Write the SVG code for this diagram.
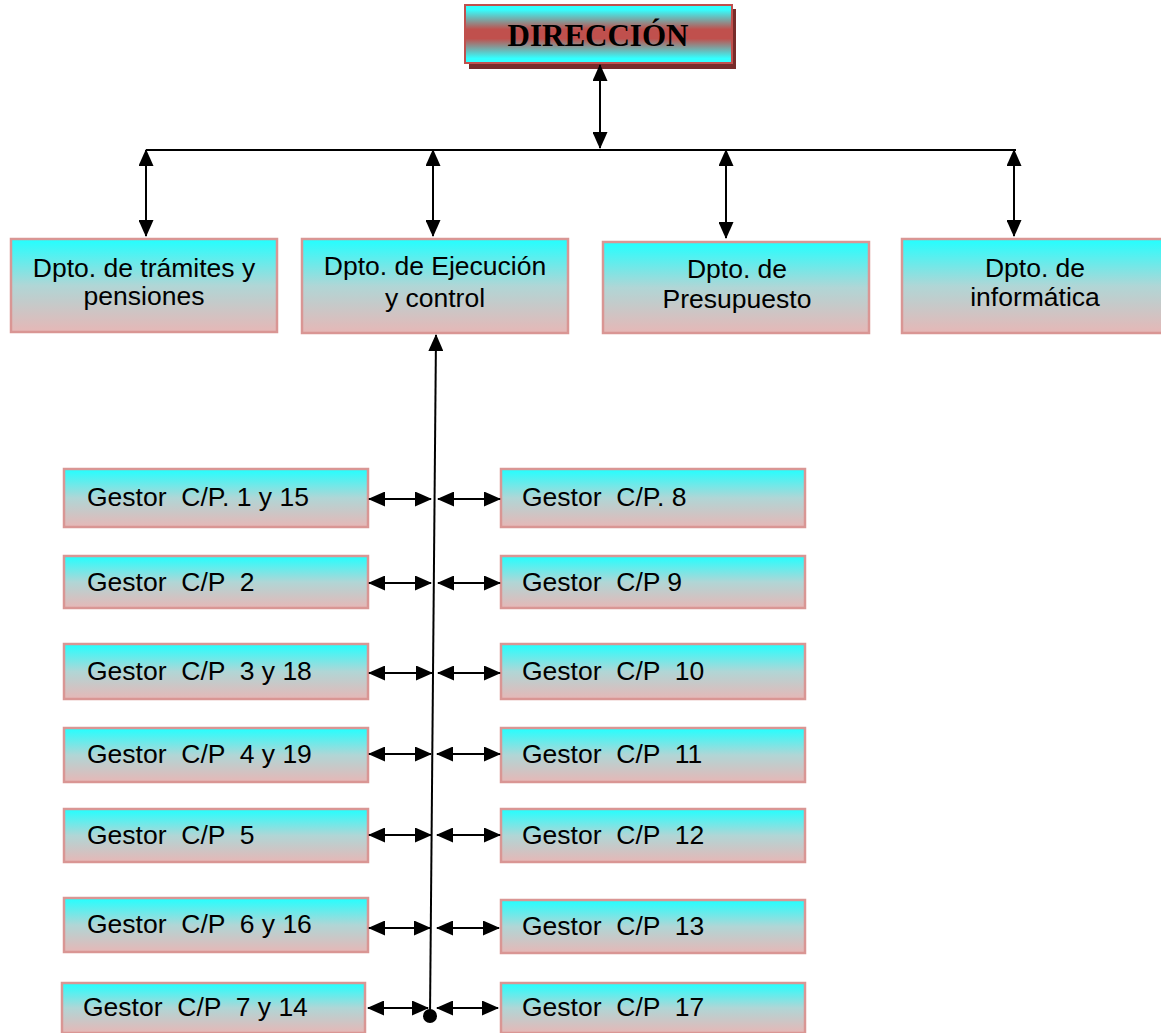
<svg xmlns="http://www.w3.org/2000/svg" width="1161" height="1033" viewBox="0 0 1161 1033">
<style>
.box{fill:url(#g);stroke:#d99694;stroke-width:2.5}
.t{font-family:"Liberation Sans",Arial,sans-serif;font-size:26.5px;fill:#000;white-space:pre}
.c{text-anchor:middle}
.ln{stroke:#000;stroke-width:2;fill:none}
.ar{stroke:#000;stroke-width:2;fill:none;marker-start:url(#ah);marker-end:url(#ah)}
</style>
<defs>
<linearGradient id="g" x1="0" y1="0" x2="0" y2="1">
<stop offset="0" stop-color="#22ffff"/>
<stop offset="0.5" stop-color="#b0d6d6"/>
<stop offset="1" stop-color="#e6b7b6"/>
</linearGradient>
<linearGradient id="gd" x1="0" y1="0" x2="0" y2="1">
<stop offset="0" stop-color="#33ffff"/>
<stop offset="0.08" stop-color="#33ffff"/>
<stop offset="0.42" stop-color="#c0504d"/>
<stop offset="0.58" stop-color="#c0504d"/>
<stop offset="0.92" stop-color="#33ffff"/>
<stop offset="1" stop-color="#33ffff"/>
</linearGradient>
<marker id="ah" viewBox="0 0 17 15" refX="16" refY="7.5" markerWidth="17" markerHeight="15" markerUnits="userSpaceOnUse" orient="auto-start-reverse">
<path d="M0,0 L17,7.5 L0,15 z" fill="#000"/>
</marker>
<marker id="ah1" viewBox="0 0 17 15" refX="16" refY="7.5" markerWidth="17" markerHeight="15" markerUnits="userSpaceOnUse" orient="auto">
<path d="M0,0 L17,7.5 L0,15 z" fill="#000"/>
</marker>
</defs>

<g id="direccion">
<rect x="469" y="9" width="267" height="60" fill="#772c2a"/>
<rect x="465" y="5" width="267" height="58" fill="url(#gd)" stroke="#c0504d" stroke-width="2"/>
<text x="598" y="46" text-anchor="middle" font-family="'Liberation Serif','Times New Roman',serif" font-weight="bold" font-size="31px">DIRECCIÓN</text>
</g>

<g id="dpto-tramites">
<rect class="box" x="11" y="239" width="266" height="93"/>
<text class="t c" x="144" y="277">Dpto. de trámites y</text>
<text class="t c" x="144" y="305">pensiones</text>
</g>
<g id="dpto-ejecucion">
<rect class="box" x="302" y="239" width="266" height="94"/>
<text class="t c" x="435" y="275">Dpto. de Ejecución</text>
<text class="t c" x="435" y="307">y control</text>
</g>
<g id="dpto-presupuesto">
<rect class="box" x="603" y="242" width="266" height="91"/>
<text class="t c" x="737" y="278">Dpto. de</text>
<text class="t c" x="737" y="308">Presupuesto</text>
</g>
<g id="dpto-informatica">
<rect class="box" x="902" y="239" width="262" height="94"/>
<text class="t c" x="1035" y="277">Dpto. de</text>
<text class="t c" x="1035" y="306">informática</text>
</g>

<g id="gestor-1"><rect class="box" x="64" y="469" width="304" height="58"/><text class="t" x="87" y="506">Gestor  C/P. 1 y 15</text></g>
<g id="gestor-2"><rect class="box" x="64" y="556" width="304" height="52"/><text class="t" x="87" y="591">Gestor  C/P  2</text></g>
<g id="gestor-3"><rect class="box" x="64" y="644" width="304" height="55"/><text class="t" x="87" y="680">Gestor  C/P  3 y 18</text></g>
<g id="gestor-4"><rect class="box" x="64" y="728" width="304" height="54"/><text class="t" x="87" y="763">Gestor  C/P  4 y 19</text></g>
<g id="gestor-5"><rect class="box" x="64" y="809" width="304" height="53"/><text class="t" x="87" y="844">Gestor  C/P  5</text></g>
<g id="gestor-6"><rect class="box" x="64" y="898" width="304" height="54"/><text class="t" x="87" y="933">Gestor  C/P  6 y 16</text></g>
<g id="gestor-7"><rect class="box" x="62" y="983" width="303" height="50"/><text class="t" x="83" y="1016">Gestor  C/P  7 y 14</text></g>

<g id="gestor-8"><rect class="box" x="501" y="469" width="304" height="58"/><text class="t" x="522" y="506">Gestor  C/P. 8</text></g>
<g id="gestor-9"><rect class="box" x="501" y="556" width="304" height="52"/><text class="t" x="522" y="591">Gestor  C/P 9</text></g>
<g id="gestor-10"><rect class="box" x="501" y="644" width="304" height="55"/><text class="t" x="522" y="680">Gestor  C/P  10</text></g>
<g id="gestor-11"><rect class="box" x="501" y="728" width="304" height="54"/><text class="t" x="522" y="763">Gestor  C/P  11</text></g>
<g id="gestor-12"><rect class="box" x="501" y="809" width="304" height="53"/><text class="t" x="522" y="844">Gestor  C/P  12</text></g>
<g id="gestor-13"><rect class="box" x="501" y="900" width="304" height="53"/><text class="t" x="522" y="935">Gestor  C/P  13</text></g>
<g id="gestor-17"><rect class="box" x="501" y="983" width="304" height="50"/><text class="t" x="522" y="1016">Gestor  C/P  17</text></g>

<g id="connectors">
<line class="ar" x1="600" y1="65" x2="600" y2="148"/>
<line class="ln" x1="146" y1="150" x2="1016" y2="150"/>
<line class="ar" x1="146" y1="150" x2="146" y2="236"/>
<line class="ar" x1="433" y1="150" x2="433" y2="236"/>
<line class="ar" x1="726" y1="150" x2="726" y2="238"/>
<line class="ar" x1="1014" y1="150" x2="1014" y2="236"/>
<line class="ln" x1="430" y1="1016" x2="436" y2="335" marker-end="url(#ah1)"/>
<circle cx="430" cy="1016" r="7" fill="#000"/>
<line class="ar" x1="369" y1="499" x2="431" y2="499"/>
<line class="ar" x1="438" y1="499" x2="500" y2="499"/>
<line class="ar" x1="369" y1="583" x2="431" y2="583"/>
<line class="ar" x1="438" y1="583" x2="500" y2="583"/>
<line class="ar" x1="369" y1="673" x2="432" y2="673"/>
<line class="ar" x1="438" y1="673" x2="500" y2="673"/>
<line class="ar" x1="369" y1="754" x2="431" y2="754"/>
<line class="ar" x1="437" y1="754" x2="500" y2="754"/>
<line class="ar" x1="369" y1="835" x2="431" y2="835"/>
<line class="ar" x1="437" y1="835" x2="500" y2="835"/>
<line class="ar" x1="369" y1="928" x2="430" y2="928"/>
<line class="ar" x1="437" y1="928" x2="499" y2="928"/>
<line class="ar" x1="368" y1="1008" x2="428" y2="1008"/>
<line class="ar" x1="437" y1="1008" x2="498" y2="1008"/>
</g>
</svg>
